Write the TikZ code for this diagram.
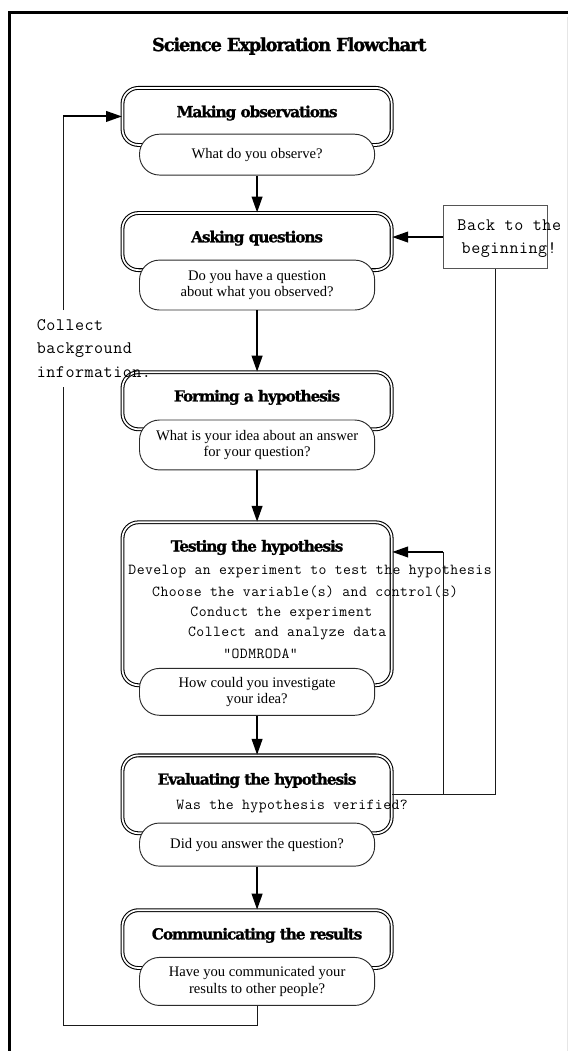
\documentclass[tikz,border=0pt]{standalone}
\usepackage{fontspec}
\setmainfont{Liberation Serif}
\newfontfamily\typefont[LetterSpace=3]{Latin Modern Mono}
\newfontfamily\headfont[LetterSpace=-7,FakeBold=1.2]{DejaVu Serif}
\usetikzlibrary{arrows.meta,positioning,calc}
\definecolor{ink}{HTML}{000000}
\definecolor{ink2}{HTML}{2B2B2B}
\definecolor{wire}{HTML}{1A1A1A}
\definecolor{hair}{HTML}{555555}
\definecolor{edge}{HTML}{E6E6E6}
\tikzset{
  every node/.style={text=ink},
  stage/.style={draw=ink, fill=white, rounded corners=12pt, line width=0.8pt, double=white, double distance=1.3pt, minimum width=7.12cm},
  quest/.style={draw=ink2, fill=white, rounded corners=15pt, line width=0.7pt, minimum width=6.22cm, align=center, inner sep=2pt, font=\fontsize{11}{12.5}\selectfont},
  stagehead/.style={font=\headfont\bfseries\fontsize{11.5}{13}\selectfont, inner sep=1pt},
  charttitle/.style={font=\headfont\bfseries\fontsize{13.5}{16}\selectfont},
  mono/.style={font=\typefont\fontsize{11.5}{15.4}\selectfont, inner sep=0pt},
  monobig/.style={font=\typefont\fontsize{13.2}{17.6}\selectfont, align=left},
  backbox/.style={draw=hair, line width=0.75pt, minimum width=2.75cm, minimum height=1.69cm},
  arr/.style={-{Triangle[length=12pt,width=8pt]}, line width=1.5pt, draw=ink},
  wire/.style={draw=wire, line width=0.75pt},
  frame/.style={draw=ink, line width=2.25pt},
}
\newcommand{\stagebox}[4]{% #1 name, #2 y, #3 height, #4 heading
  \node[stage, minimum height=#3cm] (#1) at (6.80,#2) {};
  \node[stagehead] (#1h) at ($(#1.north)+(0,-0.68)$) {#4};
}

\begin{document}
\begin{tikzpicture}
  \useasboundingbox (0,0) rectangle (15.03,-27.80);
  \draw[frame] (0.24,-27.80) -- (0.24,-0.34) -- (15.03,-0.34);
  \draw[draw=edge, line width=0.75pt] (15.0,-0.45) -- (15.0,-27.80);

  \node[charttitle] (ttl) at (7.65,-1.22) {Science Exploration Flowchart};

  \stagebox{m1}{-3.08}{1.51}{Making observations}
  \node[quest, minimum height=1.08cm] (q1) at (6.80,-4.09) {What do you observe?};

  \stagebox{m2}{-6.39}{1.51}{Asking questions}
  \node[quest, minimum height=1.32cm] (q2) at (6.80,-7.54) {Do you have a question\\about what you observed?};

  \stagebox{m3}{-10.60}{1.51}{Forming a hypothesis}
  \node[quest, minimum height=1.32cm] (q3) at (6.80,-11.77) {What is your idea about an answer\\for your question?};

  \stagebox{m4}{-15.97}{4.31}{Testing the hypothesis}
  \foreach \x/\y/\t [count=\i] in {3.39/-15.13/Develop an experiment to test the hypothesis,
      4.02/-15.66/Choose the variable(s) and control(s), 5.03/-16.22/Conduct the experiment,
      4.97/-16.75/Collect and analyze data, 5.90/-17.30/"ODMRODA"}
    \node[mono, anchor=west] (plan\i) at (\x,\y) {\t};
  \node[quest, minimum height=1.24cm] (q4) at (6.80,-18.30) {How could you investigate\\your idea?};

  \stagebox{m5}{-21.01}{2.06}{Evaluating the hypothesis}
  \node[mono, anchor=west] (verify) at (4.66,-21.32) {Was the hypothesis verified?};
  \node[quest, minimum height=1.14cm] (q5) at (6.80,-22.34) {Did you answer the question?};

  \stagebox{m6}{-24.84}{1.53}{Communicating the results}
  \node[quest, minimum height=1.27cm] (q6) at (6.80,-25.96) {Have you communicated your\\results to other people?};

  \draw[arr] (q1.south) -- (m2.north);
  \draw[arr] (q2.south) -- (m3.north);
  \draw[arr] (q3.south) -- (m4.north);
  \draw[arr] (q4.south) -- (m5.north);
  \draw[arr] (q5.south) -- (m6.north);

  % going back after evaluating
  \node[backbox] (back) at (13.10,-6.27) {};
  \node[monobig, align=center] (backtxt) at (13.47,-6.31) {Back to the\\beginning!};
  \draw[arr] (back.west) -- (back.west -| m2.east);
  \draw[wire] (m5.east) -| (back.south);
  \coordinate (retry) at (11.72,-14.60);
  \draw[wire] (retry |- m5.east) -- (retry);
  \draw[arr] (retry) -- (retry -| m4.east);

  % loop from the results back to observing
  \node[monobig, anchor=west, inner ysep=7pt] (bg) at (0.85,-9.22) {Collect\\background\\information.};
  \coordinate (loop) at (1.67,-27.12);
  \draw[wire] (q6.south) |- (loop) -- (loop |- bg.south);
  \draw[wire] (loop |- bg.north) -- (loop |- m1.west);
  \draw[arr] (loop |- m1.west) -- (m1.west);
\end{tikzpicture}
\end{document}
